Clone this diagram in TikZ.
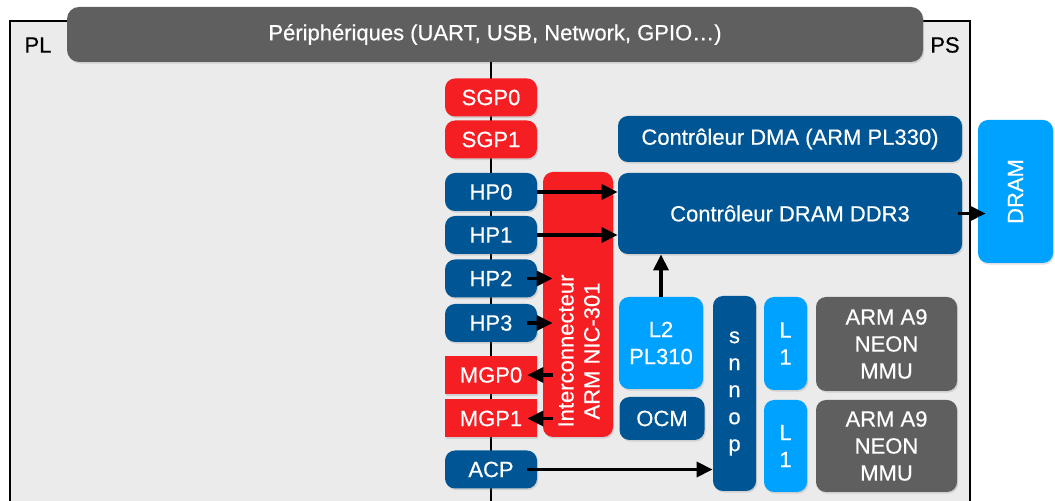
\documentclass[tikz,border=0pt]{standalone}
\usepackage{fontspec}
\setmainfont{Liberation Sans}[FakeBold=0.5]
\usetikzlibrary{arrows.meta,positioning,shadows}

\definecolor{bleufonce}{RGB}{0,86,148}
\definecolor{bleuclair}{RGB}{0,162,255}
\definecolor{rouge}{RGB}{245,30,35}
\definecolor{grisfonce}{RGB}{95,95,95}
\definecolor{fond}{RGB}{235,235,235}

\begin{document}
\begin{tikzpicture}[x=0.5pt, y=-0.5pt, font=\fontsize{11}{13.5}\selectfont]
    % Styles des blocs
    \tikzstyle{bloc}=[rectangle, rounded corners=5pt, inner sep=0pt, text=white, align=center, drop shadow={opacity=0.25, shadow xshift=0.6pt, shadow yshift=-0.8pt}]
    \tikzstyle{port}=[bloc, fill=bleufonce, minimum width=46pt, minimum height=19pt]
    \tikzstyle{sgp}=[port, fill=rouge]
    \tikzstyle{mgp}=[port, fill=rouge, sharp corners]
    \tikzstyle{fleche}=[-{Triangle[length=8pt, width=7.5pt]}, line width=1.7pt]

    \useasboundingbox (0,0) rectangle (1055,501);

    % Zone PL / PS
    \draw[fill=fond, line width=0.8pt] (10,21) rectangle (970,520);
    \node (pl) at (38,45) {PL};
    \node (ps) at (945,45) {PS};
    \node (periph) [bloc, fill=grisfonce, rounded corners=6pt, minimum width=428pt, minimum height=27.5pt] at (495,34.5) {P\'eriph\'eriques (UART, USB, Network, GPIO…)};
    \coordinate (bas) at (491,501);
    \draw[line width=0.8pt] (periph.south -| bas) -- (bas);

    % Ports
    \node (sgp0) [sgp] at (491,97.5) {SGP0};
    \node (sgp1) [sgp] at (491,139.5) {SGP1};
    \node (hp0) [port] at (491,192) {HP0};
    \node (hp1) [port] at (491,235) {HP1};
    \node (hp2) [port] at (491,278.5) {HP2};
    \node (hp3) [port] at (491,323) {HP3};
    \node (mgp0) [mgp] at (491,375) {MGP0};
    \node (mgp1) [mgp] at (491,418.5) {MGP1};
    \node (acp) [port] at (491,469.5) {ACP};

    % Interconnexion
    \node (inter) [bloc, fill=rouge, minimum width=35pt, minimum height=132.5pt] at (578,304.5) {};
    \node (intertxt) [text=white, align=center, rotate=90, font=\fontsize{11}{13}\selectfont] at (579,351) {Interconnecteur\\ARM NIC-301};

    % Contr\^oleurs et m\'emoire
    \node (dma) [bloc, fill=bleufonce, minimum width=172pt, minimum height=23pt] at (790,139) {Contr\^oleur DMA (ARM PL330)};
    \node (ddr) [bloc, fill=bleufonce, minimum width=172pt, minimum height=40.5pt] at (790,213.5) {Contr\^oleur DRAM DDR3};
    \node (dram) [bloc, fill=bleuclair, minimum width=37.5pt, minimum height=71.5pt] at (1015.5,191.5) {};
    \node (dramtxt) [text=white, rotate=90] at (dram.center) {DRAM};
    \node (l2) [bloc, fill=bleuclair, minimum width=42pt, minimum height=46pt] at (661,343) {L2\\PL310};
    \node (ocm) [bloc, fill=bleufonce, minimum width=42.5pt, minimum height=21.5pt] at (662,418.5) {OCM};
    \node (snoop) [bloc, fill=bleufonce, minimum width=21.5pt, minimum height=97.5pt] at (734.5,393.5) {s\\n\\n\\o\\p};

    % Processeurs
    \node (l1a) [bloc, fill=bleuclair, minimum width=21.5pt, minimum height=46.5pt] at (785.5,343.5) {L\\1};
    \node (l1b) [bloc, fill=bleuclair, minimum width=21.5pt, minimum height=46pt] at (785.5,446) {L\\1};
    \node (a9a) [bloc, fill=grisfonce, minimum width=70.5pt, minimum height=47pt] at (886.5,344) {ARM A9\\NEON\\MMU};
    \node (a9b) [bloc, fill=grisfonce, minimum width=70.5pt, minimum height=46pt] at (886.5,446) {ARM A9\\NEON\\MMU};

    % Liaisons
    \draw[fleche] (hp0.east) -- (hp0.east -| ddr.west);
    \draw[fleche] (hp1.east) -- (hp1.east -| ddr.west);
    \draw[fleche] ([xshift=-5pt]hp2.east) -- ([xshift=5pt]hp2.east -| inter.west);
    \draw[fleche] ([xshift=-5pt]hp3.east) -- ([xshift=5pt]hp3.east -| inter.west);
    \draw[fleche] ([xshift=5pt]mgp0.east -| inter.west) -- ([xshift=-5pt]mgp0.east);
    \draw[fleche] ([xshift=5pt]mgp1.east -| inter.west) -- ([xshift=-5pt]mgp1.east);
    \draw[fleche] ([xshift=-5pt]acp.east) -- (acp.east -| snoop.west);
    \draw[fleche] (l2.north) -- (l2.north |- ddr.south);
    \draw[fleche] ([xshift=-2pt]ddr.east) -- ([xshift=4pt]ddr.east -| dram.west);
\end{tikzpicture}
\end{document}
